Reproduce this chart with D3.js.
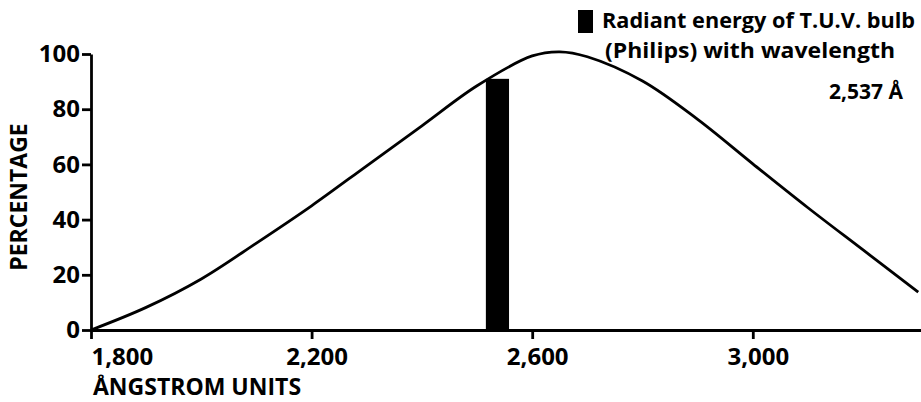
<!DOCTYPE html>
<html>
<head>
<meta charset="utf-8">
<script src="https://cdn.jsdelivr.net/npm/d3@7"></script>
<style>
  body { margin: 0; background: #fff; }
  text { font-family: "Open Sans", Lato, sans-serif; font-weight: 700; fill: #000; }
</style>
</head>
<body>
<div id="chart"></div>
<script>
// wavelength (angstrom) and relative effectiveness (%)
var wavelengths = [1800, 1900, 2000, 2100, 2200, 2300, 2400, 2500, 2600, 2650, 2700, 2800, 2900, 3000, 3100, 3200, 3300];
var percentages = [0, 8.2, 18.5, 31.5, 45, 59.5, 74, 88.5, 99.3, 100.8, 99, 90.2, 76.3, 60.2, 44.3, 29, 13.7];

// the T.U.V. bulb line
var bulbWavelength = 2537;
var bulbPercent = 91;

var xTicks = [1800, 2200, 2600, 3000];
var xTickLabels = ["1,800", "2,200", "2,600", "3,000"];
var yTicks = [0, 20, 40, 60, 80, 100];

var legendLines = ["Radiant energy of T.U.V. bulb", "(Philips) with wavelength", "2,537 Å"];

var width = 921, height = 402;

var svg = d3.select("#chart").append("svg")
    .attr("width", width)
    .attr("height", height);

var x = d3.scaleLinear().domain([1800, 3305]).range([91, 921]);
var y = d3.scaleLinear().domain([0, 100]).range([330, 54]);

// bar for the bulb
var barHalf = 21; // angstrom
svg.append("rect")
    .attr("x", x(bulbWavelength - barHalf))
    .attr("y", y(bulbPercent))
    .attr("width", x(bulbWavelength + barHalf) - x(bulbWavelength - barHalf))
    .attr("height", y(0) - y(bulbPercent))
    .attr("fill", "#000");

// curve
var line = d3.line()
    .x(function(d, i) { return x(wavelengths[i]); })
    .y(function(d) { return y(d); })
    .curve(d3.curveCatmullRom.alpha(0.5));

svg.append("path")
    .datum(percentages)
    .attr("d", line)
    .attr("fill", "none")
    .attr("stroke", "#000")
    .attr("stroke-width", 2.8)
    .attr("stroke-linejoin", "round");

// axes
var xAxis = svg.append("g")
    .attr("transform", "translate(0," + y(0) + ")")
    .call(d3.axisBottom(x)
        .tickValues(xTicks)
        .tickFormat(function(d, i) { return xTickLabels[i]; })
        .tickSize(9)
        .tickSizeOuter(0)
        .tickPadding(9));

var yAxis = svg.append("g")
    .attr("transform", "translate(" + x(1800) + ",0)")
    .call(d3.axisLeft(y)
        .tickValues(yTicks)
        .tickSize(9)
        .tickSizeOuter(0)
        .tickPadding(2));

svg.selectAll(".domain, .tick line")
    .attr("stroke", "#000")
    .attr("stroke-width", 2.8);

xAxis.selectAll(".tick text")
    .style("font-size", "24px")
    .attr("x", 5);
// first label hangs right of its tick
xAxis.selectAll(".tick text").filter(function(d) { return d === 1800; })
    .attr("text-anchor", "start")
    .attr("x", 0);

yAxis.selectAll(".tick text")
    .style("font-size", "24px");

svg.selectAll(".tick text").attr("fill", "#000");

// axis titles
svg.append("text")
    .attr("x", 93)
    .attr("y", 395)
    .style("font-size", "23px")
    .text("ÅNGSTROM UNITS");

svg.append("text")
    .attr("transform", "translate(27,197) rotate(-90)")
    .attr("text-anchor", "middle")
    .style("font-size", "23px")
    .text("PERCENTAGE");

// legend
svg.append("rect")
    .attr("x", 578)
    .attr("y", 10)
    .attr("width", 15)
    .attr("height", 23)
    .attr("fill", "#000");

svg.append("text").attr("x", 602).attr("y", 28)
    .attr("textLength", 313).attr("lengthAdjust", "spacingAndGlyphs")
    .style("font-size", "21px").text(legendLines[0]);
svg.append("text").attr("x", 605).attr("y", 58)
    .attr("textLength", 290).attr("lengthAdjust", "spacingAndGlyphs")
    .style("font-size", "21px").text(legendLines[1]);
svg.append("text").attr("x", 903).attr("y", 99)
    .attr("text-anchor", "end")
    .style("font-size", "21px").text(legendLines[2]);
</script>
</body>
</html>
